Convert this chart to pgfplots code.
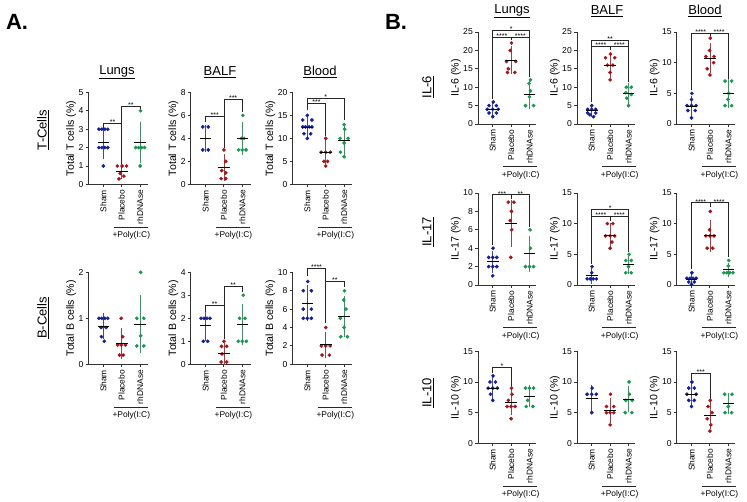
\documentclass[border=0pt]{standalone}
\usepackage{pgfplots}
\pgfplotsset{compat=1.18}
\usepackage{fontspec}
\setmainfont{Liberation Sans}

\definecolor{cb}{RGB}{20,30,150}
\definecolor{cr}{RGB}{165,20,25}
\definecolor{cg}{RGB}{25,150,80}

\newcommand{\xt}{\fontsize{8.4}{9}\selectfont}
\newcommand{\yt}{\fontsize{8.6}{9}\selectfont}
\newcommand{\yl}{\fontsize{10.6}{11}\selectfont}
\newcommand{\ttl}{\fontsize{13}{14}\selectfont}
\newcommand{\stf}{\fontsize{7}{7}\selectfont}

% points of one group
\newcommand{\pts}[2]{\addplot[only marks, mark=*, mark size=1.65pt, color=#1] coordinates {#2};}
% mean line and SD whisker: x, mean, sd, colour
\newcommand{\ms}[4]{\addplot[only marks, mark=-, mark size=5.8pt, mark options={black, line width=1pt},
  error bars/.cd, y dir=both, y explicit,
  error bar style={#4!55!gray, line width=0.8pt},
  error mark options={#4!55!gray, line width=0.8pt, mark size=3.3pt}]
  coordinates {(#1,#2) +- (0,#3)};}
% significance bracket and stars
\newcommand{\br}[1]{\addplot[black!85, line width=0.8pt] coordinates {#1};}
\newcommand{\st}[3]{\node[font=\stf, anchor=base, inner sep=0pt, yshift=-1.2pt] at (axis cs:#1,#2) {#3};}
% +Poly(I:C) line under Placebo and rhDNAse
\newcommand{\poly}{%
  \draw[line width=1pt, black!85] ([yshift=-43pt]axis cs:0.57,0) -- ([yshift=-43pt]axis cs:2.43,0);
  \node[font=\xt] at ([yshift=-51pt]axis cs:1.52,0) {+Poly(I:C)};}

\pgfplotsset{
  base/.style={scale only axis, height=92pt, ymin=0,
    axis lines=left, axis line style={-, line width=0.9pt, black!80},
    xtick={0,1,2}, xticklabels={Sham,Placebo,rhDNAse},
    xticklabel style={rotate=90, anchor=east, font=\xt, inner sep=2.5pt},
    yticklabel style={font=\yt, inner sep=2pt}, ylabel style={font=\yl}, ylabel shift=-3pt,
    tick align=outside, major tick length=3pt, tick style={line width=0.9pt, black!80},
    /pgf/number format/assume math mode=true, clip=false, scaled y ticks=false},
  pa/.style={base, width=59.8pt, xmin=-0.8, xmax=2.45},
  pb/.style={base, width=57.96pt, xmin=-0.8, xmax=2.35},
}

\begin{document}
\begin{tikzpicture}
\path[use as bounding box] (0,0) rectangle (747pt,501pt);

% ---------- A. T cells ----------
\begin{axis}[pa, at={(88.6pt,316.6pt)}, anchor=south west, ymax=5, ytick={0,...,5}, ylabel={Total T cells (\%)}]
\pts{cb}{(-0.24,3)(-0.08,3)(0.08,3)(0.24,3)(-0.24,2)(-0.08,2)(0.08,2)(0.24,2)(0,1)}
\pts{cr}{(0.76,1)(1.02,1)(1.26,1)(0.92,0.6)(1.12,0.45)(0.85,0.3)}
\pts{cg}{(2.02,4)(1.76,2)(1.92,2)(2.08,2)(2.24,2)(2,1)}
\ms{0}{2.25}{0.7}{cb}\ms{1}{0.72}{0.25}{cr}\ms{2}{2.28}{0.95}{cg}
\br{(0,3.05)(0,3.32)(1,3.32)(1,1.1)}\st{0.5}{3.32}{**}
\br{(1,1.1)(1,4.26)(2,4.26)(2,4.1)}\st{1.5}{4.26}{**}
\poly
\end{axis}

\begin{axis}[pa, at={(190.8pt,316.6pt)}, anchor=south west, ymax=8, ytick={0,2,...,8}, ylabel={Total T cells (\%)}]
\pts{cb}{(-0.15,5)(0.15,5)(-0.15,3)(0.15,3)}
\pts{cr}{(1,3)(1.1,2)(0.88,1.2)(1.1,1)(0.85,0.5)(1.1,0.5)}
\pts{cg}{(2.03,6)(1.95,4)(1.8,3)(2,3)(2.2,3)(2.1,4)}
\ms{0}{4}{0.9}{cb}\ms{1}{1.45}{0.9}{cr}\ms{2}{4}{1.15}{cg}
\br{(0,5.4)(0,5.9)(1,5.9)(1,3.2)}\st{0.5}{5.9}{***}
\br{(1,3.2)(1,7.4)(2,7.4)(2,6.3)}\st{1.5}{7.4}{***}
\poly
\end{axis}

\begin{axis}[pa, at={(292.6pt,316.6pt)}, anchor=south west, ymax=20, ytick={0,5,...,20}, ylabel={Total T cells (\%)}]
\pts{cb}{(0,15)(-0.25,14)(0.25,14)(-0.25,12.5)(-0.1,12.5)(0.1,12.5)(0.25,12.5)(-0.18,11)(0.18,11)(0,10)}
\pts{cr}{(1,10)(0.75,7)(1,7)(1.25,7)(0.9,5)(1.1,5)(1,4)}
\pts{cg}{(2,13)(2.03,12)(1.78,10)(2.22,10)(2,9)(1.8,7)(2,6)}
\ms{0}{12.4}{1.5}{cb}\ms{1}{7}{1.9}{cr}\ms{2}{9.5}{2.4}{cg}
\br{(0,16.1)(0,18.7)(2,18.7)(2,14)}\st{1}{18.7}{*}
\br{(0,16.1)(0,17.6)(1,17.6)(1,10.6)}\st{0.5}{17.6}{***}
\poly
\end{axis}

% ---------- A. B cells ----------
\begin{axis}[pa, at={(88.6pt,136.7pt)}, anchor=south west, ymax=2, ytick={0,1,2}, ylabel={Total B cells (\%)}]
\pts{cb}{(-0.24,1)(-0.08,1)(0.08,1)(0.24,1)(-0.12,0.8)(0.15,0.8)(-0.1,0.6)(0.05,0.5)}
\pts{cr}{(0.97,1)(1.05,0.6)(0.78,0.42)(0.97,0.42)(1.2,0.42)(0.88,0.2)(1.08,0.2)}
\pts{cg}{(2.03,2)(1.82,1)(2.2,1)(2.03,0.62)(1.82,0.4)(2.2,0.4)}
\ms{0}{0.83}{0.21}{cb}\ms{1}{0.45}{0.26}{cr}\ms{2}{0.87}{0.56}{cg}
\poly
\end{axis}

\begin{axis}[pa, at={(190.8pt,136.7pt)}, anchor=south west, ymax=4, ytick={0,...,4}, ylabel={Total B cells (\%)}]
\pts{cb}{(-0.24,2)(-0.08,2)(0.08,2)(0.24,2)(-0.12,1)(0.12,1)}
\pts{cr}{(1,1)(0.87,0.78)(1.15,0.78)(0.9,0.45)(0.85,0.1)(1.15,0.1)}
\pts{cg}{(2.05,3)(1.85,2)(2.15,2)(1.78,1)(2,1)(2.22,1)}
\ms{0}{1.68}{0.52}{cb}\ms{1}{0.45}{0.35}{cr}\ms{2}{1.72}{0.75}{cg}
\br{(0,2.28)(0,2.57)(1,2.57)(1,1.08)}\st{0.5}{2.57}{**}
\br{(1,1.08)(1,3.37)(2,3.37)(2,3.16)}\st{1.5}{3.37}{**}
\poly
\end{axis}

\begin{axis}[pa, at={(292.6pt,136.7pt)}, anchor=south west, ymax=10, ytick={0,2,...,10}, ylabel={Total B cells (\%)}]
\pts{cb}{(0.02,9)(-0.22,8)(0.22,8)(-0.22,6)(0.22,6)(-0.22,5)(0,5)(0.22,5)}
\pts{cr}{(1,4)(0.76,2)(1,2)(1.24,2)(0.8,1)(1.2,1)}
\pts{cg}{(2.02,8)(1.98,7)(2.1,6)(1.8,5)(2,4)(1.82,3)(2.18,3)}
\ms{0}{6.65}{1.6}{cb}\ms{1}{2.1}{1.1}{cr}\ms{2}{5.2}{1.9}{cg}
\br{(0,9.6)(0,10.45)(1,10.45)(1,4.5)}\st{0.5}{10.45}{****}
\br{(1,4.5)(1,9)(2,9)(2,8.4)}\st{1.5}{9}{**}
\poly
\end{axis}

% ---------- B. IL-6 ----------
\begin{axis}[pb, at={(478pt,377pt)}, anchor=south west, ymax=25, ytick={0,5,...,25}, ylabel={IL-6 (\%)}]
\pts{cb}{(0.03,6)(-0.2,5)(0.2,5)(-0.3,4)(0,4)(0.3,4)(-0.2,3)(0.2,3)(0,2)}
\pts{cr}{(1.02,22)(0.95,20)(0.75,17)(1.25,17)(0.85,15)(0.8,14)(1.2,14)}
\pts{cg}{(2.05,12)(1.97,11)(2.05,9)(2,7.4)(1.78,5)(2.22,5)}
\ms{0}{4}{1.1}{cb}\ms{1}{17.3}{2.9}{cr}\ms{2}{8}{2.9}{cg}
\br{(0,6.8)(0,25.5)(2,25.5)(2,12.8)}\st{1}{25.5}{*}
\br{(0,23.5)(1,23.5)(1,22.8)}\st{0.5}{23.5}{****}
\br{(1,22.8)(1,23.5)(2,23.5)}\st{1.5}{23.5}{****}
\poly
\end{axis}

\begin{axis}[pb, at={(577pt,377pt)}, anchor=south west, ymax=25, ytick={0,5,...,25}, ylabel={IL-6 (\%)}]
\pts{cb}{(0,5)(-0.22,4)(0,4)(0.22,4)(-0.22,3)(0.22,3)(-0.1,2.5)(0.1,2)}
\pts{cr}{(1.02,19)(0.75,18)(1.25,18)(0.85,16)(1.15,16)(1,14)(1,12)}
\pts{cg}{(1.88,10)(2.15,10)(1.85,8.5)(2.15,8)(1.9,7)(2,5)}
\ms{0}{3.6}{0.9}{cb}\ms{1}{15.8}{2.5}{cr}\ms{2}{8.2}{2}{cg}
\br{(0,6)(0,22.7)(2,22.7)(2,11.5)}\st{1}{22.7}{**}
\br{(0,21)(1,21)(1,20)}\st{0.5}{21}{****}
\br{(1,20)(1,21)(2,21)}\st{1.5}{21}{****}
\poly
\end{axis}

\begin{axis}[pb, at={(676.8pt,377pt)}, anchor=south west, ymax=15, ytick={0,5,...,15}, ylabel={IL-6 (\%)}]
\pts{cb}{(0.02,5)(0,4)(-0.25,3)(0,3)(0.25,3)(-0.2,2.2)(0.2,2.2)(0,1)}
\pts{cr}{(1.02,14)(0.98,12)(0.78,11)(1.22,11)(1.2,10)(0.85,9)(1,8)}
\pts{cg}{(1.82,7)(2.18,7)(2.02,5)(1.98,4)(1.82,3)(2.18,3)}
\ms{0}{2.8}{1.3}{cb}\ms{1}{10.7}{1.9}{cr}\ms{2}{5}{1.8}{cg}
\br{(0,5.5)(0,14.85)(1,14.85)(1,14.3)}\st{0.5}{14.85}{****}
\br{(1,14.3)(1,14.85)(2,14.85)(2,7.4)}\st{1.5}{14.85}{****}
\poly
\end{axis}

% ---------- B. IL-17 ----------
\begin{axis}[pb, at={(478pt,216pt)}, anchor=south west, ymax=10, ytick={0,2,...,10}, ylabel={IL-17 (\%)}]
\pts{cb}{(0.02,4)(-0.22,3)(0,3)(0.22,3)(-0.22,2)(0,2)(0.22,2)(0,1)}
\pts{cr}{(0.85,9)(1.15,9)(1.02,8)(0.95,7)(1.03,6)(0.98,3)}
\pts{cg}{(2.03,6)(2.05,4)(1.78,2)(2,2)(2.22,2)}
\ms{0}{2.5}{0.8}{cb}\ms{1}{6.7}{2.2}{cr}\ms{2}{3.4}{1.6}{cg}
\br{(0,4.35)(0,9.8)(1,9.8)(1,9.3)}\st{0.5}{9.8}{***}
\br{(1,9.3)(1,9.8)(2,9.8)(2,6.3)}\st{1.5}{9.8}{**}
\poly
\end{axis}

\begin{axis}[pb, at={(577pt,216pt)}, anchor=south west, ymax=15, ytick={0,5,...,15}, ylabel={IL-17 (\%)}]
\pts{cb}{(0.02,3)(0,2)(-0.25,1)(-0.08,1)(0.08,1)(0.25,1)}
\pts{cr}{(0.85,10)(1.15,10)(0.75,8)(1,8)(1.25,8)(1.1,7)(1,6)}
\pts{cg}{(2.03,5)(1.85,4)(2.15,4)(2,3)(1.85,2)(2.15,2)}
\ms{0}{1.5}{0.8}{cb}\ms{1}{8.1}{1.5}{cr}\ms{2}{3.3}{0.95}{cg}
\br{(0,3.5)(0,12.4)(2,12.4)(2,5.45)}\st{1}{12.4}{*}
\br{(0,11.2)(1,11.2)(1,10.5)}\st{0.5}{11.2}{****}
\br{(1,10.5)(1,11.2)(2,11.2)}\st{1.5}{11.2}{****}
\poly
\end{axis}

\begin{axis}[pb, at={(676.8pt,216pt)}, anchor=south west, ymax=15, ytick={0,5,...,15}, ylabel={IL-17 (\%)}]
\pts{cb}{(0.02,2)(-0.25,1.1)(-0.08,1.1)(0.08,1.1)(0.25,1.1)(-0.15,0.5)(0.15,0.5)(0,0.1)}
\pts{cr}{(1.02,12)(0.98,9)(0.78,8)(1,8)(1.22,8)(0.85,6)(1.15,6)}
\pts{cg}{(2.02,4)(2,3.1)(1.75,2)(1.92,2)(2.08,2)(2.25,2)}
\ms{0}{0.9}{0.5}{cb}\ms{1}{8}{2.05}{cr}\ms{2}{2.5}{0.6}{cg}
\br{(0,2.6)(0,13.4)(1,13.4)(1,12.7)}\st{0.5}{13.4}{****}
\br{(1,12.7)(1,13.4)(2,13.4)(2,4.5)}\st{1.5}{13.4}{****}
\poly
\end{axis}

% ---------- B. IL-10 ----------
\begin{axis}[pb, at={(478pt,57.7pt)}, anchor=south west, ymax=15, ytick={0,5,...,15}, ylabel={IL-10 (\%)}]
\pts{cb}{(0.02,11)(-0.15,10)(0.15,10)(-0.25,9)(0,9)(0.25,9)(-0.12,8)(0,7)}
\pts{cr}{(1.02,9)(1.05,8)(0.85,7)(0.78,6)(1,6)(1.22,6)(1,4)}
\pts{cg}{(1.78,9)(2,9)(2.22,9)(1.9,7)(1.82,6)(2.18,6)}
\ms{0}{9}{1.3}{cb}\ms{1}{6.7}{1.6}{cr}\ms{2}{7.7}{1.2}{cg}
\br{(0,11.4)(0,12.4)(1,12.4)(1,9.4)}\st{0.5}{12.4}{*}
\poly
\end{axis}

\begin{axis}[pb, at={(577pt,57.7pt)}, anchor=south west, ymax=15, ytick={0,5,...,15}, ylabel={IL-10 (\%)}]
\pts{cb}{(0.02,9)(-0.25,8)(0,8)(0.25,8)(0,5)}
\pts{cr}{(1.02,8)(0.8,6)(1.2,6)(0.8,5)(1,5)(1.2,5)(1,3)}
\pts{cg}{(2.03,10)(2.05,8)(1.85,7)(2.2,7)(1.82,5)(2.18,5)}
\ms{0}{7.3}{1.7}{cb}\ms{1}{5.4}{1.5}{cr}\ms{2}{7.2}{1.6}{cg}
\poly
\end{axis}

\begin{axis}[pb, at={(676.8pt,57.7pt)}, anchor=south west, ymax=15, ytick={0,5,...,15}, ylabel={IL-10 (\%)}]
\pts{cb}{(0.02,10)(-0.15,9)(0.15,9)(-0.25,8)(0.25,8)(-0.15,7)(0.15,7)(0,6)}
\pts{cr}{(1.02,7)(0.9,6)(1.12,5)(0.85,4)(1.05,3)(1,2)}
\pts{cg}{(1.8,8)(2.2,8)(2,6)(1.82,5)(2.18,5)}
\ms{0}{8}{1.25}{cb}\ms{1}{4.6}{1.7}{cr}\ms{2}{6.5}{1.2}{cg}
\br{(0,10.4)(0,11.4)(1,11.4)(1,7.2)}\st{0.5}{11.4}{***}
\poly
\end{axis}

% ---------- titles and row labels ----------
\node[font=\fontsize{22}{24}\selectfont\bfseries] at (17pt,479pt) {A.};
\node[font=\fontsize{22}{24}\selectfont\bfseries] at (396pt,479pt) {B.};
\node[font=\ttl] at (117pt,429pt) {\underline{Lungs}};
\node[font=\ttl] at (220pt,429pt) {\underline{BALF}};
\node[font=\ttl] at (320pt,429pt) {\underline{Blood}};
\node[font=\ttl] at (512pt,490pt) {\underline{Lungs}};
\node[font=\ttl] at (607pt,490pt) {\underline{BALF}};
\node[font=\ttl] at (705pt,490pt) {\underline{Blood}};
\node[font=\ttl, rotate=90] at (43pt,371pt) {\underline{T-Cells}};
\node[font=\ttl, rotate=90] at (43pt,183pt) {\underline{B-Cells}};
\node[font=\ttl, rotate=90] at (428pt,414pt) {\underline{IL-6}};
\node[font=\ttl, rotate=90] at (428pt,269pt) {\underline{IL-17}};
\node[font=\ttl, rotate=90] at (428pt,108pt) {\underline{IL-10}};
\end{tikzpicture}
\end{document}
